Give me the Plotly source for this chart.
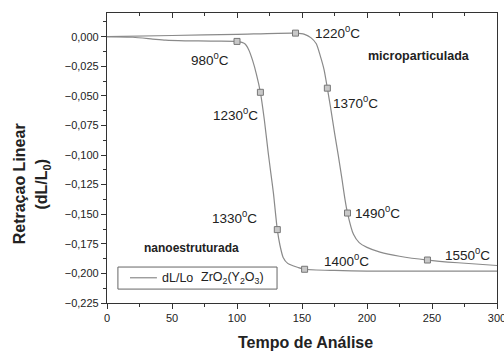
import plotly.graph_objects as go

# Nanostructured ZrO2(Y2O3): linear shrinkage vs. analysis time
nano_t = [0, 20, 35, 45, 60, 80, 100, 106, 109, 112, 115, 118, 121, 124, 126, 128,
          131, 133, 135.5, 139, 143, 147, 152, 175, 200, 250, 300]
nano_y = [0.000, -0.0005, -0.002, -0.003, -0.0035, -0.0037, -0.004, -0.006, -0.011,
          -0.020, -0.032, -0.047, -0.070, -0.098, -0.115, -0.132, -0.163, -0.176,
          -0.1865, -0.1915, -0.1935, -0.195, -0.1965, -0.1975, -0.198, -0.198, -0.198]

# Microparticulate ZrO2(Y2O3)
micro_t = [0, 50, 100, 145, 152, 157, 161, 164, 167, 169.5, 172, 175, 178, 180.7,
           183, 185, 189.6, 194, 200, 210, 225, 246.5, 270, 300]
micro_y = [0.000, 0.001, 0.002, 0.003, 0.002, -0.001, -0.006, -0.016, -0.028, -0.0435,
           -0.060, -0.081, -0.101, -0.120, -0.137, -0.149, -0.167, -0.174, -0.178,
           -0.182, -0.1855, -0.1887, -0.191, -0.1933]

# Marked temperatures along each curve
nano_mark_t = [100, 118, 131, 152]
nano_mark_y = [-0.004, -0.047, -0.163, -0.1965]
nano_temps = ["980", "1230", "1330", "1400"]

micro_mark_t = [145, 169.5, 185, 246.5]
micro_mark_y = [0.003, -0.0435, -0.149, -0.1887]
micro_temps = ["1220", "1370", "1490", "1550"]

# label anchor positions (data coords) for each temperature
nano_lab_t = [79, 99, 98, 184]
nano_lab_y = [-0.0185, -0.065, -0.152, -0.1885]
micro_lab_t = [177, 191, 208, 277]
micro_lab_y = [0.004, -0.055, -0.148, -0.1835]

x_ticks = [0, 50, 100, 150, 200, 250, 300]

LINE = "#8a8a8a"
FONT = "Arial"
TXT = "#222"

fig = go.Figure()

fig.add_trace(go.Scatter(
    x=nano_t, y=nano_y, mode="lines", line=dict(color=LINE, width=1.2, shape="spline", smoothing=0.6),
    showlegend=False))
fig.add_trace(go.Scatter(
    x=micro_t, y=micro_y, mode="lines", line=dict(color=LINE, width=1.2, shape="spline", smoothing=0.6),
    showlegend=False))
fig.add_trace(go.Scatter(
    x=nano_mark_t + micro_mark_t, y=nano_mark_y + micro_mark_y, mode="markers",
    marker=dict(symbol="square", size=6, color="#c8c8c8", line=dict(color="#777777", width=1)),
    showlegend=False))
# carrier for the top axis with inward ticks
fig.add_trace(go.Scatter(x=[0, 300], y=[0, 0], xaxis="x2", mode="lines",
                         line=dict(width=0), hoverinfo="skip", showlegend=False))

for t, y, txt in zip(nano_lab_t + micro_lab_t, nano_lab_y + micro_lab_y, nano_temps + micro_temps):
    fig.add_annotation(x=t, y=y, text=f"{txt}<sup>0</sup>C", showarrow=False,
                       font=dict(family=FONT, size=13.5, color=TXT))

fig.add_annotation(x=240, y=-0.0165, text="<b>microparticulada</b>", showarrow=False,
                   font=dict(family=FONT, size=12.5, color=TXT))
fig.add_annotation(x=65, y=-0.1785, text="<b>nanoestruturada</b>", showarrow=False,
                   font=dict(family=FONT, size=12, color=TXT))

# legend box drawn in the lower-left corner of the plot
fig.add_shape(type="rect", xref="paper", yref="paper", x0=0.028, x1=0.436, y0=0.048, y1=0.124,
              line=dict(color="#666", width=1), fillcolor="white", layer="above")
fig.add_shape(type="line", xref="paper", yref="paper", x0=0.059, x1=0.128, y0=0.087, y1=0.087,
              line=dict(color=LINE, width=1.2), layer="above")
fig.add_annotation(xref="paper", yref="paper", x=0.136, y=0.087, xanchor="left", yanchor="middle",
                   text="dL/Lo", showarrow=False, font=dict(family=FONT, size=12.5, color=TXT))
fig.add_annotation(xref="paper", yref="paper", x=0.237, y=0.087, xanchor="left", yanchor="middle",
                   text="ZrO<sub>2</sub>(Y<sub>2</sub>O<sub>3</sub>)", showarrow=False,
                   font=dict(family=FONT, size=12.5, color=TXT))

# axis titles
fig.add_annotation(xref="paper", yref="paper", x=0.51, y=-0.135, text="<b>Tempo de Análise</b>",
                   showarrow=False, font=dict(family=FONT, size=16, color=TXT), yanchor="middle")
fig.add_annotation(xref="paper", yref="paper", x=-0.252, y=0.41, text="<b>Retraçao Linear</b>",
                   textangle=-90, showarrow=False, font=dict(family=FONT, size=16, color=TXT))
fig.add_annotation(xref="paper", yref="paper", x=-0.195, y=0.41, text="<b>(dL/L<sub>0</sub>)</b>",
                   textangle=-90, showarrow=False, font=dict(family=FONT, size=16, color=TXT))

axis_common = dict(showgrid=False, zeroline=False, linecolor="#333", linewidth=1.2,
                   tickcolor="#333", tickfont=dict(family=FONT, size=11, color=TXT),
                   automargin=False)

fig.update_layout(
    width=504, height=351,
    margin=dict(l=107, r=7, t=13, b=48),
    paper_bgcolor="white", plot_bgcolor="white",
    separators=",.",
    font=dict(family=FONT),
    showlegend=False,
    xaxis=dict(range=[0, 300], tickvals=x_ticks, ticks="outside",
               ticklen=5, mirror=True, showline=True, ticklabeloverflow="allow",
               minor=dict(dtick=25, ticks="outside", ticklen=3, tickcolor="#333"),
               **axis_common),
    xaxis2=dict(range=[0, 300], overlaying="x", side="top", showticklabels=False,
                tickvals=x_ticks, ticks="inside", ticklen=5, automargin=False,
                minor=dict(dtick=25, ticks="inside", ticklen=3, tickcolor="#333"),
                showline=False, showgrid=False, zeroline=False, tickcolor="#333"),
    yaxis=dict(range=[-0.225, 0.020], dtick=0.025, tick0=0, tickformat=".3f", ticks="outside",
               ticklen=5, mirror=True, showline=True,
               minor=dict(dtick=0.0125, ticks="outside", ticklen=3, tickcolor="#333"),
               **axis_common),
)

fig.write_html("out.html")
